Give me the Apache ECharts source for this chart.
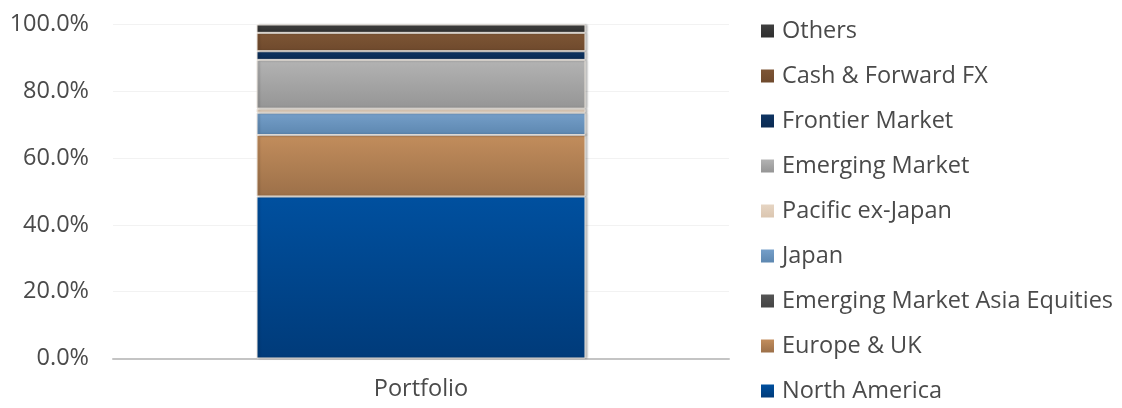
<!DOCTYPE html>
<html>
<head>
<meta charset="utf-8">
<script src="https://cdn.jsdelivr.net/npm/echarts@6/dist/echarts.min.js"></script>
<style>
  html, body { margin: 0; padding: 0; background: #ffffff; }
  #chart { width: 1122px; height: 408px; }
</style>
</head>
<body>
<div id="chart"></div>
<script>
// Regional allocation of the portfolio (% of assets), stacked bottom to top
const categories = ['Portfolio'];
const seriesNames = [
  'North America', 'Europe & UK', 'Emerging Market Asia Equities', 'Japan',
  'Pacific ex-Japan', 'Emerging Market', 'Frontier Market', 'Cash & Forward FX', 'Others'
];
const northAmerica = [48.5];
const europeUK = [18.4];
const emAsiaEquities = [0.0];
const japan = [6.7];
const pacificExJapan = [1.2];
const emergingMarket = [14.6];
const frontierMarket = [2.6];
const cashForwardFX = [5.5];
const others = [2.5];
const yTicks = [0, 20, 40, 60, 80, 100];

const seriesValues = [
  northAmerica, europeUK, emAsiaEquities, japan,
  pacificExJapan, emergingMarket, frontierMarket, cashForwardFX, others
];

// top / bottom shades for each segment's vertical gradient
const shades = [
  ['#00509f', '#003b7a'],
  ['#c28d5c', '#9c7049'],
  ['#555555', '#444444'],
  ['#759fc9', '#5d87b0'],
  ['#e6d5c3', '#dbc6b0'],
  ['#b3b3b3', '#959595'],
  ['#0f3563', '#0a2a52'],
  ['#7d5535', '#6f4a2d'],
  ['#404040', '#2e2e2e']
];

const FONT = 'Open Sans';
const FONT_SIZE = 23.5;
const TEXT_COLOR = '#4a4a4a';

const chart = echarts.init(document.getElementById('chart'), null, { renderer: 'canvas' });

const series = seriesNames.map((name, i) => ({
  name: name,
  type: 'bar',
  stack: 'total',
  barWidth: '53.4%',
  data: seriesValues[i],
  itemStyle: {
    color: new echarts.graphic.LinearGradient(0, 0, 0, 1, [
      { offset: 0, color: shades[i][0] },
      { offset: 1, color: shades[i][1] }
    ]),
    borderColor: 'rgba(232,226,218,0.95)',
    borderWidth: 1,
    shadowColor: 'rgba(0,0,0,0.25)',
    shadowOffsetX: 2,
    shadowBlur: 2
  },
  emphasis: { disabled: true }
}));

chart.setOption({
  animation: false,
  textStyle: { fontFamily: FONT },
  grid: { left: 113, right: 393, top: 24.5, bottom: 49.5 },
  legend: {
    orient: 'vertical',
    left: 761,
    top: 18,
    height: 390,
    padding: 0,
    icon: 'rect',
    itemWidth: 13,
    itemHeight: 13,
    itemGap: 19,
    itemStyle: { borderWidth: 0, shadowBlur: 0, shadowOffsetX: 0 },
    data: seriesNames.slice().reverse(),
    textStyle: {
      fontFamily: FONT,
      fontSize: FONT_SIZE,
      color: TEXT_COLOR,
      lineHeight: 26,
      padding: [0, 0, 0, 3]
    }
  },
  xAxis: {
    type: 'category',
    data: categories,
    axisLine: { show: true, lineStyle: { color: '#c4c4c4', width: 2 } },
    axisTick: { show: false },
    axisLabel: { fontSize: FONT_SIZE, color: TEXT_COLOR, margin: 19, fontFamily: FONT }
  },
  yAxis: {
    type: 'value',
    min: yTicks[0],
    max: yTicks[yTicks.length - 1],
    interval: yTicks[1] - yTicks[0],
    axisLine: { show: false },
    axisTick: { show: false },
    splitLine: { lineStyle: { color: '#f2f2f2', width: 1 } },
    axisLabel: {
      fontSize: FONT_SIZE,
      color: TEXT_COLOR,
      margin: 24,
      fontFamily: FONT,
      formatter: v => v.toFixed(1) + '%'
    }
  },
  series: series
});
</script>
</body>
</html>
